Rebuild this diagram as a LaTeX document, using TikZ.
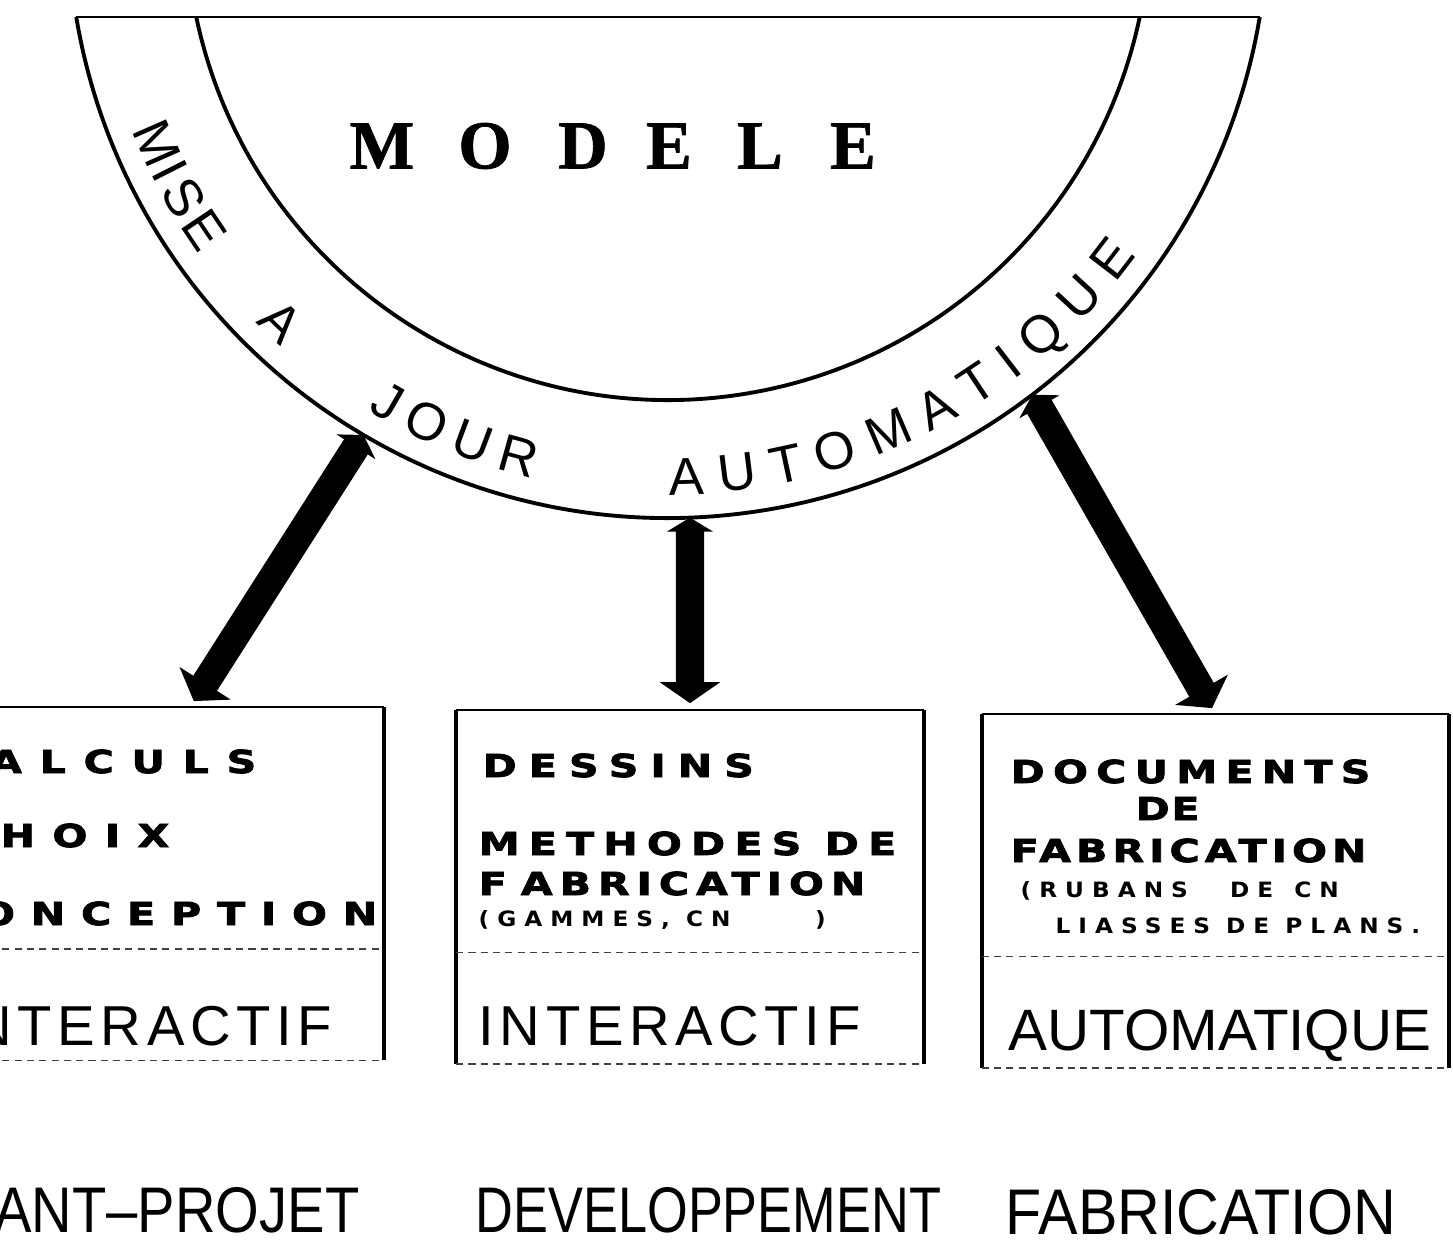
\documentclass[tikz,border=0pt]{standalone}
\usepackage{fontspec}
\usepackage{graphicx}
\usepackage{tikz}
\usetikzlibrary{arrows.meta,calc}
\newfontfamily\arcfont{Liberation Sans}
\newfontfamily\titlefont{Liberation Serif}[FakeBold=1]
\newfontfamily\heavyfont{DejaVu Sans}[LetterSpace=40, FakeStretch=1.3, FakeBold=2.5]
\newfontfamily\smallfont{DejaVu Sans}[LetterSpace=38, FakeStretch=1.1]
\newfontfamily\modefont{Liberation Sans}[LetterSpace=10]
\tikzset{
  ring/.style={line width=1.1pt},
  topline/.style={line width=0.6pt},
  side/.style={line width=1.1pt},
  rule/.style={line width=0.5pt},
  faint/.style={line width=0.45pt, dash pattern=on 2pt off 1.5pt, black!75},
  panel/.style={minimum width=4.66cm, minimum height=3.52cm, inner sep=0pt},
  bigarrow/.style={line width=8pt, {Triangle[width=13pt,length=4pt]}-{Triangle[width=17pt,length=6pt]}, shorten >=2pt},
  arcletter/.style={font=\arcfont\fontsize{15}{15}\selectfont, anchor=base, inner sep=0pt},
  title/.style={font=\titlefont\bfseries\fontsize{19.5}{19.5}\selectfont, inner sep=0pt},
  heavy/.style={font=\heavyfont\bfseries\fontsize{9}{9}\selectfont, anchor=base west, inner sep=0pt},
  small/.style={font=\smallfont\bfseries\fontsize{6}{6}\selectfont, anchor=base west, inner sep=0pt},
  mode/.style={font=\modefont\fontsize{16}{16}\selectfont, anchor=base west, inner sep=0pt},
  autom/.style={font=\arcfont\fontsize{16.6}{16.6}\selectfont, anchor=base west, inner sep=0pt},
  phase/.style={font=\arcfont, inner sep=0pt},
}
\newcommand{\spc}[1]{\addfontfeature{LetterSpace=#1}}
\begin{document}
\begin{tikzpicture}[x=0.01cm, y=-0.01cm]
\useasboundingbox (0,0) rectangle (1453,1241);
\clip (0,0) rectangle (1453,1241);
\coordinate (ctr) at (668,-82);

% half ring of the model
\draw[topline] ([shift={(ctr)}]170.5:600) -- ([shift={(ctr)}]9.5:600);
\draw[ring] ([shift={(ctr)}]170.5:600) arc[start angle=170.5, end angle=9.5, radius=600];
\draw[ring] ([shift={(ctr)}]168.2:482) arc[start angle=168.2, end angle=11.8, radius=482];
\foreach \ch/\xx [count=\i] in {M/382,O/485,D/583,E/669,L/760,E/853}
  \node[title] (mod\i) at (\xx,146) {\ch};
\foreach \ch/\ang [count=\i] in {M/156.2,I/153.1,S/150.0,E/146.1,A/133.8,J/120.1,O/115.6,U/110.5,R/105.5,
    A/88.1,U/82.9,T/77.8,O/72.6,M/66.8,A/61.3,T/56.4,I/52.5,Q/48.2,U/42.7,E/37.5}
  \node[arcletter, rotate=90-\ang] (arc\i) at ([shift={(ctr)}]\ang:577) {\ch};

% the three panels
\node[panel] (boxL) at (150,883.5) {};
\node[panel] (boxM) at (690,887) {};
\node[panel] (boxR) at (1215.5,891) {};
\foreach \b in {boxL,boxM,boxR}{
  \draw[rule] (\b.north west) -- (\b.north east);
  \draw[side] (\b.north west) -- (\b.south west);
  \draw[side] (\b.north east) -- (\b.south east);
  \draw[faint] ($(\b.north west)!0.685!(\b.south west)$) -- ($(\b.north east)!0.685!(\b.south east)$);
  \draw[faint] (\b.south west) -- (\b.south east);
}

% arrows from the ring
\coordinate (hitL) at ([shift={(ctr)}]120.5:600);
\coordinate (hitM) at ([shift={(ctr)}]87.9:600);
\coordinate (hitR) at ([shift={(ctr)}]52.6:600);
\coordinate (dropL) at (190,707);
\draw[bigarrow] (hitL) -- (dropL);
\draw[bigarrow] (hitM) -- (boxM.north);
\draw[bigarrow] (hitR) -- (boxR.north);

% panel texts
\node[heavy, anchor=base east] (calc) at (257,773) {\spc{56}CALCULS};
\node[heavy, anchor=base east] (choix) at (170,847) {\spc{55}CHOIX};
\node[heavy, anchor=base east] (conc) at (378,925) {\spc{50}CONCEPTION};
\node[mode, anchor=base east] (interL) at (333,1045) {INTERACTIF};

\node[heavy] (dess) at (482,777) {\spc{38}DESSINS};
\node[heavy] (meth) at (478,855) {\spc{29}METHODES DE};
\node[heavy] (fabM) at (478,895) {\spc{22}F\kern4pt ABRICATION};
\node[small] (gam) at (478,926) {(GAMMES, CN\hspace{24pt})};
\node[mode] (interM) at (478,1045) {INTERACTIF};

\node[heavy] (docs) at (1010,783) {\spc{26}DOCUMENTS};
\node[heavy] (deR) at (1135,820) {\spc{5}DE};
\node[heavy] (fabR) at (1010,862) {\spc{16}FABRICATION};
\node[small] (rub) at (1020,897) {(RUBANS\hspace{12pt}DE\hspace{6pt}CN};
\node[small] (liass) at (1055,933) {LIASSES DE PLANS.};
\node[autom] (autoR) at (1008,1050) {AUTOMATIQUE};

% phases
\node[phase, anchor=base east] (avant) at (360,1232) {\resizebox{4.31cm}{0.45cm}{AVANT–PROJET}};
\node[phase, anchor=base west] (devel) at (475,1232) {\resizebox{4.65cm}{0.45cm}{DEVELOPPEMENT}};
\node[phase, anchor=base west] (fabri) at (1005,1234) {\resizebox{3.90cm}{0.45cm}{FABRICATION}};
\end{tikzpicture}
\end{document}
